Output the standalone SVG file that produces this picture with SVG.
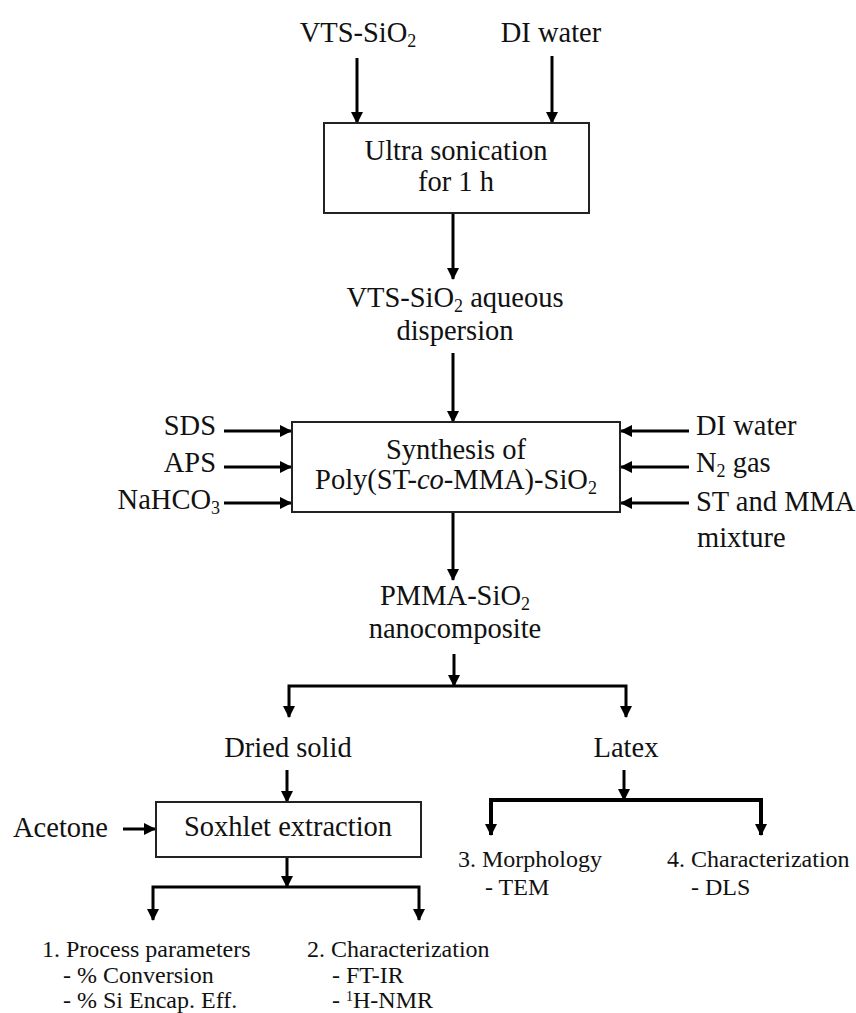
<svg xmlns="http://www.w3.org/2000/svg" width="856" height="1013" viewBox="0 0 856 1013" font-family="'Liberation Serif', serif">
<style>
text{font-family:'Liberation Serif', serif;fill:#111;}
.t{font-size:28.5px;}
.s{font-size:24px;}
.c{text-anchor:middle;}
.r{text-anchor:end;}
.box{fill:#fff;stroke:#222;stroke-width:2;}
.ln{fill:none;stroke:#000;stroke-width:3;}
.sub{font-size:18px;}
</style>
<defs>
<marker id="ah" markerUnits="userSpaceOnUse" markerWidth="12" markerHeight="12" refX="11" refY="6" orient="auto-start-reverse" viewBox="0 0 12 12">
<path d="M0,0 L12,6 L0,12 z" fill="#000"/>
</marker>
</defs>
<rect width="856" height="1013" fill="#fff"/>
<g id="connectors">
<line class="ln" x1="357" y1="58" x2="357" y2="123" marker-end="url(#ah)"/>
<line class="ln" x1="552" y1="56" x2="552" y2="123" marker-end="url(#ah)"/>
<line class="ln" x1="453" y1="213" x2="453" y2="279" marker-end="url(#ah)"/>
<line class="ln" x1="453" y1="353" x2="453" y2="422" marker-end="url(#ah)"/>
<line class="ln" x1="224" y1="431" x2="291" y2="431" marker-end="url(#ah)"/>
<line class="ln" x1="224" y1="467" x2="291" y2="467" marker-end="url(#ah)"/>
<line class="ln" x1="224" y1="503" x2="291" y2="503" marker-end="url(#ah)"/>
<line class="ln" x1="689" y1="431" x2="621" y2="431" marker-end="url(#ah)"/>
<line class="ln" x1="689" y1="467" x2="621" y2="467" marker-end="url(#ah)"/>
<line class="ln" x1="689" y1="503" x2="621" y2="503" marker-end="url(#ah)"/>
<line class="ln" x1="453" y1="512" x2="453" y2="580" marker-end="url(#ah)"/>
<line class="ln" x1="454" y1="654" x2="454" y2="686" marker-end="url(#ah)"/>
<path class="ln" d="M289,717 V686 H626 V717" marker-start="url(#ah)" marker-end="url(#ah)"/>
<line class="ln" x1="287" y1="770" x2="287" y2="802" marker-end="url(#ah)"/>
<line class="ln" x1="123" y1="829" x2="155" y2="829" marker-end="url(#ah)"/>
<line class="ln" x1="287" y1="857" x2="287" y2="887" marker-end="url(#ah)"/>
<path class="ln" d="M153,920 V887 H419 V920" marker-start="url(#ah)" marker-end="url(#ah)"/>
<line class="ln" x1="624" y1="770" x2="624" y2="800" marker-end="url(#ah)"/>
<path class="ln" style="stroke-width:4" d="M491,835 V800 H761 V835" marker-start="url(#ah)" marker-end="url(#ah)"/>
</g>
<g id="vts-sio2"><text class="t c" x="358" y="42">VTS-SiO<tspan class="sub" dy="5">2</tspan></text></g>
<g id="di-water-top"><text class="t c" x="551" y="42">DI water</text></g>
<g id="ultra-sonication">
<rect class="box" x="324" y="123" width="265" height="90"/>
<text class="t c" x="456" y="160">Ultra sonication</text>
<text class="t c" x="456" y="191">for 1 h</text>
</g>
<g id="aqueous-dispersion">
<text class="t c" x="455" y="307">VTS-SiO<tspan class="sub" dy="5">2</tspan><tspan dy="-5"> aqueous</tspan></text>
<text class="t c" x="455" y="340">dispersion</text>
</g>
<g id="synthesis">
<rect class="box" x="292" y="422" width="328" height="90"/>
<text class="t c" x="456" y="459">Synthesis of</text>
<text class="t c" x="456" y="489">Poly(ST-<tspan font-style="italic">co</tspan>-MMA)-SiO<tspan class="sub" dy="5">2</tspan></text>
</g>
<g id="sds"><text class="t r" x="216" y="435">SDS</text></g>
<g id="aps"><text class="t r" x="216" y="472">APS</text></g>
<g id="nahco3"><text class="t r" x="220" y="509">NaHCO<tspan class="sub" dy="5">3</tspan></text></g>
<g id="di-water-right"><text class="t" x="696" y="435">DI water</text></g>
<g id="n2-gas"><text class="t" x="696" y="472">N<tspan class="sub" dy="5">2</tspan><tspan dy="-5"> gas</tspan></text></g>
<g id="st-mma"><text class="t" x="696" y="511">ST and MMA</text><text class="t" x="697" y="547">mixture</text></g>
<g id="pmma-sio2">
<text class="t c" x="455" y="605">PMMA-SiO<tspan class="sub" dy="5">2</tspan></text>
<text class="t c" x="455" y="638">nanocomposite</text>
</g>
<g id="dried-solid"><text class="t c" x="288" y="757">Dried solid</text></g>
<g id="latex"><text class="t c" x="626" y="757">Latex</text></g>
<g id="soxhlet">
<rect class="box" x="156" y="802" width="265" height="55"/>
<text class="t c" x="288" y="836">Soxhlet extraction</text>
</g>
<g id="acetone"><text class="t" x="13" y="837">Acetone</text></g>
<g id="morphology">
<text class="s" x="458" y="867">3. Morphology</text>
<text class="s" x="485" y="895">- TEM</text>
</g>
<g id="characterization-latex">
<text class="s" x="667" y="867">4. Characterization</text>
<text class="s" x="691" y="895">- DLS</text>
</g>
<g id="process-parameters">
<text class="s" x="42" y="957">1. Process parameters</text>
<text class="s" x="63" y="983">- % Conversion</text>
<text class="s" x="63" y="1008">- % Si Encap. Eff.</text>
</g>
<g id="characterization-solid">
<text class="s" x="307" y="957">2. Characterization</text>
<text class="s" x="332" y="983">- FT-IR</text>
<text class="s" x="332" y="1008">- <tspan font-size="14" dy="-7">1</tspan><tspan dy="7">H-NMR</tspan></text>
</g>
</svg>
